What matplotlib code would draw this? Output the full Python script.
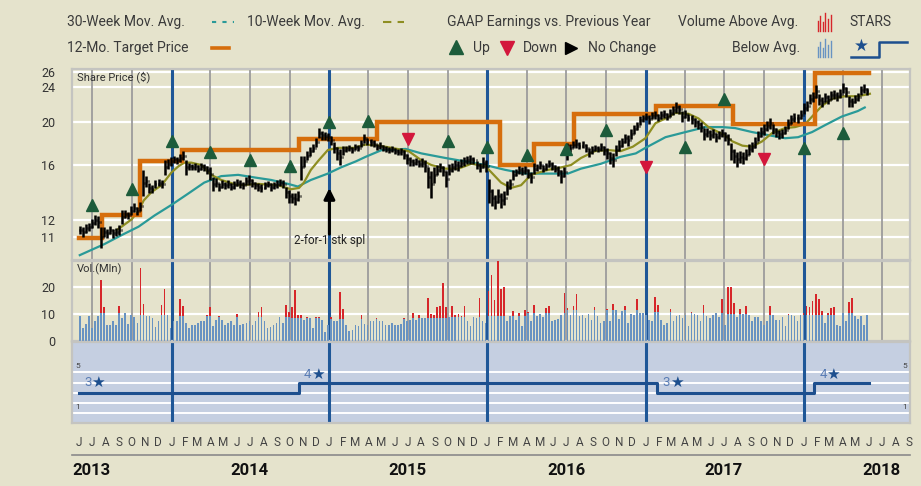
import matplotlib
matplotlib.use("Agg")
import numpy as np
import pandas as pd
import matplotlib.pyplot as plt
import matplotlib.dates as mdates
import matplotlib.transforms as mtransforms
from matplotlib.lines import Line2D
from matplotlib.collections import LineCollection

plt.rcParams['font.family'] = ['Roboto', 'DejaVu Sans']

# ---------------- data ----------------
first_week = "2013-06-03"

weekly_close = [
    11.4, 11.3, 11.5, 11.6, 11.8, 12.0, 11.9, 11.0, 11.3, 11.2,
    11.4, 11.2, 11.3, 11.4, 12.2, 12.4, 12.3, 12.6, 12.8, 12.6,
    12.9, 14.6, 14.7, 14.2, 14.1, 14.5, 14.6, 14.5, 15.8, 16.1,
    16.3, 16.5, 16.4, 16.6, 16.8, 15.8, 15.9, 15.8, 15.9, 15.7,
    15.9, 15.8, 15.6, 15.3, 14.5, 14.6, 14.3, 14.5, 14.4, 14.5,
    14.3, 14.4, 14.6, 14.5, 14.4, 14.7, 14.8, 14.6, 14.4, 14.3,
    14.2, 14.4, 14.5, 14.3, 14.4, 14.5, 14.6, 14.5, 13.9, 13.6,
    13.5, 13.4, 13.6, 15.8, 16.3, 16.8, 17.2, 17.5, 18.0, 18.9,
    18.7, 18.6, 18.5, 18.2, 17.5, 17.0, 16.7, 17.3, 17.4, 17.5,
    17.3, 17.6, 17.5, 17.9, 18.4, 18.1, 18.0, 17.9, 17.6, 17.7,
    17.5, 17.4, 17.3, 17.4, 17.2, 17.1, 17.2, 16.9, 16.5, 16.3,
    16.2, 16.3, 16.1, 16.2, 15.9, 15.0, 14.5, 15.2, 15.6, 15.8,
    15.5, 14.9, 15.6, 15.8, 16.0, 15.9, 16.2, 16.3, 16.4, 16.5,
    16.4, 16.0, 15.8, 16.2, 15.9, 14.0, 13.5, 13.2, 13.6, 13.3,
    13.5, 14.2, 14.5, 15.2, 15.4, 15.6, 15.5, 15.6, 15.3, 15.0,
    15.7, 15.8, 16.0, 15.7, 15.9, 16.1, 15.9, 15.7, 15.5, 15.1,
    15.4, 17.2, 17.5, 17.8, 17.9, 17.7, 17.8, 17.5, 17.1, 17.3,
    17.5, 17.4, 17.6, 17.3, 17.0, 16.6, 16.4, 17.3, 17.7, 18.0,
    18.4, 18.2, 18.8, 19.3, 19.6, 20.2, 20.4, 20.6, 20.3, 20.7,
    20.8, 20.5, 20.8, 20.9, 20.6, 21.0, 21.3, 21.6, 21.4, 20.6,
    20.9, 20.5, 20.3, 20.0, 19.8, 19.5, 18.8, 19.0, 18.7, 18.9,
    18.5, 18.7, 18.9, 18.6, 18.3, 17.2, 16.8, 16.5, 16.7, 16.6,
    16.9, 17.4, 17.6, 18.0, 18.6, 19.0, 19.3, 19.6, 19.9, 19.3,
    19.0, 18.8, 18.9, 19.2, 19.8, 20.3, 20.5, 20.4, 20.8, 21.5,
    21.8, 22.6, 22.8, 23.5, 22.5, 22.2, 22.8, 22.5, 23.0, 23.1,
    22.9, 23.2, 23.9, 23.4, 22.3, 22.2, 22.6, 22.8, 23.6, 23.8, 23.5,
]

weekly_range = [
    0.5, 0.6, 0.5, 0.5, 0.6, 0.6, 0.7, 1.2, 0.6, 0.5,
    0.5, 0.5, 0.5, 0.6, 0.9, 0.5, 0.5, 0.6, 0.6, 0.5,
    0.6, 2.0, 0.8, 0.7, 0.6, 0.6, 0.5, 0.6, 1.2, 0.8,
    0.7, 0.6, 0.6, 0.7, 0.8, 1.2, 0.6, 0.5, 0.6, 0.6,
    0.6, 0.6, 0.6, 1.0, 1.0, 0.7, 0.6, 0.6, 0.5, 0.6,
    0.5, 0.6, 0.5, 0.6, 0.5, 0.6, 0.7, 0.6, 0.5, 0.6,
    0.6, 0.5, 0.5, 0.6, 0.5, 0.6, 0.5, 0.6, 0.8, 0.9,
    0.7, 0.8, 0.7, 2.0, 1.0, 0.8, 0.8, 0.8, 0.9, 1.0,
    0.9, 0.8, 0.8, 0.9, 1.0, 1.2, 1.4, 0.8, 0.6, 0.6,
    0.6, 0.6, 0.6, 0.7, 0.9, 0.7, 0.6, 0.6, 0.6, 0.6,
    0.6, 0.5, 0.6, 0.5, 0.5, 0.5, 0.6, 0.8, 0.9, 0.7,
    0.6, 0.6, 0.6, 0.8, 1.0, 1.6, 2.0, 1.2, 0.8, 0.7,
    0.8, 1.2, 0.9, 0.7, 0.8, 0.8, 0.7, 0.7, 0.7, 0.8,
    0.6, 0.7, 0.8, 0.9, 1.0, 1.8, 1.2, 1.0, 1.0, 1.0,
    1.0, 1.0, 0.8, 0.8, 0.6, 0.6, 0.6, 0.7, 0.7, 0.9,
    0.9, 0.6, 0.7, 0.6, 0.6, 0.6, 0.7, 0.6, 0.8, 1.0,
    0.8, 1.5, 0.8, 0.7, 0.8, 0.6, 0.6, 0.8, 0.8, 0.7,
    0.6, 0.6, 0.7, 0.8, 0.9, 1.0, 1.2, 1.0, 1.0, 0.8,
    0.9, 1.0, 1.0, 0.9, 0.8, 0.9, 0.8, 0.8, 0.9, 0.8,
    0.9, 0.8, 0.9, 0.8, 0.8, 0.9, 1.0, 1.2, 1.0, 1.2,
    0.9, 0.8, 1.0, 0.9, 0.9, 1.0, 1.2, 0.9, 1.0, 0.9,
    0.9, 0.8, 0.8, 0.9, 1.0, 1.5, 1.2, 1.3, 1.0, 1.0,
    1.0, 1.0, 0.9, 1.0, 1.0, 1.0, 1.1, 1.0, 1.2, 1.0,
    0.9, 0.9, 0.9, 0.8, 1.0, 1.0, 0.9, 0.9, 1.0, 1.2,
    1.1, 1.2, 1.2, 1.5, 1.3, 1.2, 1.1, 1.1, 1.0, 1.1,
    1.0, 1.1, 1.3, 1.2, 1.3, 1.1, 1.0, 1.0, 1.2, 1.1, 0.8,
]

weekly_volume = [
    9.1, 4.8, 6.4, 9.1, 4.8, 7.5, 9.4, 22.5, 12.5, 6.0,
    6.0, 7.3, 5.8, 12.9, 8.5, 10.4, 6.4, 9.8, 9.0, 6.6,
    27.0, 13.8, 9.4, 9.1, 8.5, 5.0, 7.3, 13.5, 19.1, 9.5,
    4.8, 7.3, 7.3, 15.4, 12.9, 6.6, 4.8, 6.0, 6.0, 6.6,
    7.3, 7.3, 9.8, 12.6, 5.4, 7.9, 9.1, 7.9, 6.0, 6.6,
    7.3, 6.0, 10.1, 6.0, 6.3, 6.6, 7.3, 6.0, 7.3, 10.8,
    12.5, 7.3, 4.8, 5.0, 6.0, 6.6, 8.8, 6.6, 13.5, 10.8,
    12.5, 18.9, 9.8, 9.8, 7.9, 9.0, 8.5, 4.8, 9.0, 8.8,
    7.9, 3.5, 5.8, 8.8, 7.5, 7.5, 18.3, 12.0, 6.0, 3.8,
    4.1, 5.8, 5.6, 9.8, 6.3, 5.8, 7.5, 7.5, 8.5, 7.3,
    7.5, 5.8, 5.8, 6.6, 5.8, 6.0, 6.3, 8.5, 7.3, 7.9,
    10.4, 7.9, 9.8, 8.5, 8.5, 16.0, 10.0, 9.8, 12.5, 12.9,
    21.6, 12.5, 8.8, 12.9, 9.5, 10.0, 9.1, 13.1, 7.5, 5.4,
    8.8, 8.5, 15.8, 7.3, 6.6, 18.5, 24.4, 15.0, 29.5, 19.1,
    20.0, 7.5, 9.1, 11.0, 7.9, 10.4, 5.4, 11.6, 10.8, 7.3,
    13.5, 9.1, 10.0, 8.8, 12.3, 12.9, 7.5, 7.9, 8.3, 9.8,
    17.9, 12.3, 9.8, 12.9, 17.3, 9.1, 9.8, 8.5, 10.0, 7.9,
    12.6, 9.1, 6.6, 7.5, 12.0, 7.3, 13.8, 11.3, 8.3, 11.0,
    12.9, 6.6, 10.0, 9.5, 15.4, 10.4, 10.4, 9.8, 7.9, 7.3,
    16.3, 13.3, 7.9, 6.0, 6.6, 12.0, 7.3, 9.1, 9.8, 8.5,
    9.8, 5.4, 10.8, 10.0, 9.8, 7.3, 13.3, 9.1, 8.5, 9.8,
    10.4, 8.8, 15.4, 6.0, 19.8, 20.0, 14.1, 8.8, 12.0, 10.0,
    12.9, 9.5, 7.3, 8.8, 8.8, 7.3, 6.0, 7.3, 12.9, 9.5,
    7.6, 7.6, 8.8, 5.6, 10.0, 9.8, 9.4, 7.3, 9.8, 10.4,
    12.9, 12.5, 14.8, 17.5, 15.4, 11.0, 6.6, 10.4, 12.3, 12.5,
    6.0, 5.4, 10.4, 7.5, 14.4, 15.8, 9.1, 8.1, 9.1, 6.0, 9.8,
]

# average weekly volume by calendar quarter, 2013 Q2 ... 2018 Q2
vol_avg_quarter = [10.3, 10.3, 9.6, 9.4, 9.0, 8.8, 8.5, 8.3, 8.3, 8.5, 9.0,
                   9.3, 10.5, 11.5, 11.3, 10.6, 10.2, 10.0, 9.8, 9.8, 10.3]

# moving averages (week number after first_week, value)
ma10_week = [12.2, 13.8, 17.1, 19.4, 21.1, 23.7, 27.0, 30.3, 32.6, 34.5,
             36.8, 40.1, 43.4, 46.7, 52.3, 58.9, 65.5, 69.7, 72.4, 74.0,
             76.3, 78.9, 81.9, 85.2, 90.5, 94.4, 98.7, 103.0, 108.6, 112.8,
             116.1, 120.7, 125.0, 129.3, 133.9, 135.9, 139.1, 142.4, 145.7, 149.0,
             154.6, 158.9, 162.2, 165.5, 170.1, 174.3, 178.6, 182.6, 186.8, 190.1,
             193.4, 196.7, 201.0, 204.3, 207.6, 212.2, 215.5, 218.8, 222.0, 225.3,
             228.6, 232.9, 236.2, 239.5, 241.8, 245.1, 248.4, 252.6, 256.9, 260.9]
ma10_val = [11.4, 11.6, 12.05, 12.6, 13.3, 13.9, 14.4, 15.4, 15.9, 16.2,
            16.2, 16.0, 15.2, 14.8, 14.4, 14.5, 14.4, 14.1, 14.2, 14.6,
            15.6, 16.4, 17.3, 17.5, 17.5, 17.8, 17.7, 17.5, 17.2, 16.4,
            16.0, 15.7, 15.7, 16.1, 15.9, 15.4, 14.6, 14.2, 14.4, 15.2,
            15.6, 15.8, 16.0, 16.6, 17.2, 17.3, 17.2, 17.6, 18.4, 19.9,
            20.4, 21.0, 20.9, 20.4, 19.5, 18.8, 18.1, 17.7, 17.6, 18.1,
            18.9, 19.4, 19.5, 19.8, 20.6, 21.8, 22.6, 22.9, 22.9, 23.2]
ma30_week = [0.0, 8.2, 13.8, 19.4, 24.7, 30.3, 35.9, 41.1, 46.7, 52.3,
             57.6, 63.2, 68.8, 72.0, 76.3, 81.9, 86.2, 91.1, 94.4, 99.7,
             107.6, 112.8, 120.7, 127.3, 133.9, 140.5, 147.0, 154.6, 161.2, 165.5,
             172.0, 178.6, 183.6, 186.8, 193.4, 200.0, 206.6, 212.2, 216.4, 222.0,
             227.3, 232.9, 237.2, 241.8, 246.1, 251.6, 256.9, 259.2]
ma30_val = [10.0, 10.6, 11.1, 11.6, 12.3, 13.0, 13.8, 14.6, 15.1, 15.2,
            15.0, 14.8, 14.5, 14.3, 14.8, 15.3, 15.8, 16.3, 16.7, 17.3,
            17.4, 17.0, 16.6, 16.3, 16.0, 15.6, 15.3, 15.3, 15.3, 15.7,
            16.1, 16.7, 17.0, 17.5, 18.5, 19.0, 19.5, 19.5, 19.4, 19.0,
            18.7, 18.4, 18.5, 19.0, 19.7, 20.6, 21.2, 21.6]

target_start = ['2013-06-01', '2013-07-24', '2013-10-20', '2014-01-26', '2014-10-22',
                '2015-04-20', '2016-01-30', '2016-04-19', '2016-07-19', '2017-01-25',
                '2017-07-21', '2018-01-28']
target_val = [10.95, 12.3, 16.3, 17.3, 18.3, 20.0, 16.0, 17.9, 20.9, 21.8, 19.8, 25.9]
target_end = '2018-06-02'

earn_date = ['2013-07-01', '2013-10-01', '2014-01-01', '2014-04-01', '2014-07-01',
             '2014-10-01', '2015-01-01', '2015-04-01', '2015-07-01', '2015-10-01',
             '2016-01-01', '2016-04-01', '2016-07-01', '2016-10-01', '2017-01-01',
             '2017-04-01', '2017-07-01', '2017-10-01', '2018-01-01', '2018-04-01']
earn_dir = ['up', 'up', 'up', 'up', 'up', 'up', 'up', 'up', 'down', 'up',
            'up', 'up', 'up', 'up', 'down', 'up', 'up', 'down', 'up', 'up']
earn_level = [13.0, 14.1, 18.1, 17.1, 16.4, 15.9, 20.0, 20.1, 18.3, 18.1,
              17.6, 16.9, 17.4, 19.2, 15.8, 17.6, 22.6, 16.5, 17.5, 18.9]

star_start = ['2013-06-01', '2014-10-22', '2017-01-28', '2018-01-25']
star_val = [3, 4, 3, 4]
star_end = '2018-06-02'

split_date = '2015-01-01'
split_from, split_to = 11.0, 14.4
split_label = '2-for-1 stk spl'

price_ticks = [11, 12, 16, 20, 24, 26]
vol_ticks = [0, 10, 20]
month_letters = ['J', 'F', 'M', 'A', 'M', 'J', 'J', 'A', 'S', 'O', 'N', 'D']
years = [2013, 2014, 2015, 2016, 2017, 2018]

# ---------------- styling ----------------
BG = '#e5e3cc'
FRAME = '#c4c4c0'
TEAL = '#2a9a98'
OLIVE = '#8e8e22'
ORANGE = '#d66e0c'
GREEN = '#1d5c3b'
RED = '#d3173c'
BLUE = '#1f5797'
VBLUE = '#6893c2'
VRED = '#d6262a'
GRAYV = '#9c9c9c'
TXT = '#3a3a3a'

W, H = 921, 486
def fx(x): return x / W
def fy(y): return 1 - y / H
def rect(x0, y0, x1, y1): return [x0 / W, 1 - y1 / H, (x1 - x0) / W, (y1 - y0) / H]

fig = plt.figure(figsize=(W / 100, H / 100), dpi=100)
fig.patch.set_facecolor(BG)

ax_p = fig.add_axes(rect(72, 69, 910, 260))
ax_v = fig.add_axes(rect(72, 261, 910, 341))
ax_s = fig.add_axes(rect(72, 342, 910, 423))

t0 = pd.Timestamp(first_week)
n = len(weekly_close)
wdates = t0 + pd.to_timedelta(np.arange(n) * 7, unit='D')
xw = mdates.date2num(wdates)

def wk2num(wk):
    return mdates.date2num(t0 + pd.to_timedelta(np.array(wk) * 7.0, unit='D'))

def d2n(s):
    return mdates.date2num(pd.to_datetime(s))

xlim = (d2n('2013-05-16'), d2n('2018-09-04'))
quarters = pd.date_range('2013-07-01', '2018-07-01', freq='QS')

for ax in (ax_p, ax_v, ax_s):
    ax.set_xlim(*xlim)
    for sp in ax.spines.values():
        sp.set_color(FRAME)
        sp.set_linewidth(1.6)
    ax.tick_params(axis='x', length=0, labelbottom=False)
    ax.tick_params(axis='y', length=0)

# ---------- price panel ----------
ax_p.set_facecolor(BG)
ax_p.set_yscale('log')
ax_p.set_ylim(9.75, 26.4)
ax_p.yaxis.set_minor_locator(matplotlib.ticker.NullLocator())
ax_p.set_yticks(price_ticks)
ax_p.set_yticklabels([str(t) for t in price_ticks])
ax_p.tick_params(axis='y', labelsize=9, labelcolor='#333333', pad=12)
for t in price_ticks:
    ax_p.axhline(t, color='white', lw=1.6, zorder=1)

def vgrid(ax, only_jan=False):
    for q in quarters:
        xq = mdates.date2num(q)
        if q.month == 1:
            ax.axvline(xq, color=BLUE, lw=2.2, zorder=2)
        elif not only_jan:
            ax.axvline(xq, color=GRAYV, lw=1.3, zorder=2)

vgrid(ax_p)

ax_p.plot(wk2num(ma30_week), ma30_val, color=TEAL, lw=1.6, zorder=3)
ax_p.plot(wk2num(ma10_week), ma10_val, color=OLIVE, lw=1.6, zorder=3)

tx = list(d2n(target_start)) + [d2n(target_end)]
ty = list(target_val) + [target_val[-1]]
ax_p.step(tx, ty, where='post', color=ORANGE, lw=3.2, zorder=4, solid_joinstyle='miter')

close = np.array(weekly_close)
rng = np.array(weekly_range)
hi = close + rng / 2
lo = close - rng / 2
opn = np.r_[close[0], close[:-1]]
segs = []
for x, l, h, o, c in zip(xw, lo, hi, opn, close):
    segs.append([(x, l), (x, h)])
    segs.append([(x, c), (x + 2.3, c)])
    segs.append([(x - 2.3, o), (x, o)])
ax_p.add_collection(LineCollection(segs, colors='black', linewidths=1.8, zorder=5))

for d, dr, lv in zip(earn_date, earn_dir, earn_level):
    if dr == 'up':
        ax_p.plot([d2n(d)], [lv], marker='^', ms=8.5, color=GREEN, mec=GREEN, zorder=6, ls='none')
    else:
        ax_p.plot([d2n(d)], [lv], marker='v', ms=8.5, color=RED, mec=RED, zorder=6, ls='none')

xs = d2n(split_date)
ax_p.annotate('', xy=(xs, split_to), xytext=(xs, split_from),
              arrowprops=dict(arrowstyle='-|>', color='black', lw=2.2, mutation_scale=16),
              zorder=7)
ax_p.text(xs, 10.77, split_label, ha='center', va='center', fontsize=8.5,
          color='#222222', zorder=7)
ax_p.text(0.006, 0.955, 'Share Price ($)', transform=ax_p.transAxes, fontsize=8,
          color='#333333', ha='left', va='center')

# ---------- volume panel ----------
ax_v.set_facecolor(BG)
ax_v.set_ylim(0, 29.6)
ax_v.set_yticks(vol_ticks)
ax_v.set_yticklabels([str(t) for t in vol_ticks])
ax_v.tick_params(axis='y', labelsize=9, labelcolor='#333333', pad=12)
for t in (10, 20):
    ax_v.axhline(t, color='white', lw=1.6, zorder=1)
vgrid(ax_v)
vol = np.array(weekly_volume)
qidx = (wdates.year - 2013) * 4 + (wdates.month - 1) // 3 - 1
avg = np.array(vol_avg_quarter)[np.asarray(qidx)]
blue = np.minimum(vol, avg)
red = np.clip(vol - avg, 0, None)
ax_v.bar(xw, blue, width=3.8, color=VBLUE, linewidth=0, zorder=3)
ax_v.bar(xw, red, bottom=blue, width=3.8, color=VRED, linewidth=0, zorder=3)
ax_v.text(0.006, 0.9, 'Vol.(Mln)', transform=ax_v.transAxes, fontsize=8,
          color='#333333', ha='left', va='center')

# ---------- stars panel ----------
ax_s.set_facecolor('#c5cfe1')
ax_s.set_ylim(0, 8)
ax_s.set_yticks([])
for lv in range(1, 6):
    ax_s.axhline(lv, color='white', lw=1.4, zorder=1)
vgrid(ax_s, only_jan=True)
sx = list(d2n(star_start)) + [d2n(star_end)]
sy = list(star_val) + [star_val[-1]]
ax_s.step(sx, sy, where='post', color='#1d4f8e', lw=2.2, zorder=3)
for d, v in zip(star_start, star_val):
    xd = d2n(d)
    ax_s.annotate(str(v), xy=(xd, v), xytext=(9, 10 if v == 3 else 8), textcoords='offset pixels',
                  fontsize=9.5, color='#5a7db5', ha='center', va='center', zorder=4)
    ax_s.annotate('\u2605', xy=(xd, v), xytext=(19, 10 if v == 3 else 8), textcoords='offset pixels',
                  fontsize=11, color='#1d4f8e', ha='center', va='center', zorder=4,
                  family=['DejaVu Sans'])
ax_s.text(0.004, 0.70, '5', transform=ax_s.transAxes, fontsize=6, color='#444444', va='center')
ax_s.text(0.004, 0.20, '1', transform=ax_s.transAxes, fontsize=6, color='#444444', va='center')
ax_s.text(0.996, 0.70, '5', transform=ax_s.transAxes, fontsize=6, color='#444444', va='center', ha='right')
ax_s.text(0.996, 0.20, '1', transform=ax_s.transAxes, fontsize=6, color='#444444', va='center', ha='right')

months = pd.date_range('2013-06-01', '2018-09-01', freq='MS')
ax_s.set_xticks(mdates.date2num(months))
ax_s.set_xticklabels([month_letters[m.month - 1] for m in months])
ax_s.tick_params(axis='x', labelbottom=True, labelsize=8.5, labelcolor='#444444', pad=9, length=0)

# year labels and separator
trans = mtransforms.blended_transform_factory(ax_s.transData, fig.transFigure)
for yr in years:
    ax_s.text(d2n(f'{yr}-07-01'), fy(470), str(yr), transform=trans, ha='center', va='center',
              fontsize=12, fontweight='bold', color='#111111', clip_on=False)
fig.add_artist(Line2D([fx(72), fx(910)], [fy(455), fy(455)], color='#8a8a8a', lw=1.2,
                      transform=fig.transFigure))

# ---------- legend ----------
LF = 10
def ftext(x, y, s, **kw):
    fig.text(fx(x), fy(y), s, fontsize=LF, color=TXT, ha='left', va='center', **kw)

ftext(67, 22, '30-Week Mov. Avg.')
fig.add_artist(Line2D([fx(212), fx(234)], [fy(22), fy(22)], color=TEAL, lw=1.5,
                      ls=(0, (2, 3)), transform=fig.transFigure))
ftext(247, 22, '10-Week Mov. Avg.')
fig.add_artist(Line2D([fx(383), fx(404)], [fy(22), fy(22)], color=OLIVE, lw=1.5,
                      ls=(0, (4, 3)), transform=fig.transFigure))
ftext(447, 22, 'GAAP Earnings vs. Previous Year')
ftext(678, 22, 'Volume Above Avg.')
ftext(849, 22, 'STARS')

ftext(67, 48, '12-Mo. Target Price')
fig.add_artist(Line2D([fx(212), fx(229)], [fy(48), fy(48)], color=ORANGE, lw=2.6,
                      transform=fig.transFigure))
fig.add_artist(Line2D([fx(456)], [fy(47)], marker='^', ms=9.5, color=GREEN, ls='none',
                      transform=fig.transFigure))
ftext(473, 48, 'Up')
fig.add_artist(Line2D([fx(507)], [fy(48)], marker='v', ms=9.5, color=RED, ls='none',
                      transform=fig.transFigure))
ftext(523, 48, 'Down')
fig.add_artist(Line2D([fx(571)], [fy(48)], marker='>', ms=8.5, color='black', ls='none',
                      transform=fig.transFigure))
ftext(588, 48, 'No Change')
ftext(732, 48, 'Below Avg.')

icon_h = [0.55, 0.85, 0.5, 1.0, 0.65, 0.9]
for i, hgt in enumerate(icon_h):
    xi = 817.5 + i * 2.6
    fig.add_artist(Line2D([fx(xi), fx(xi)], [fy(31), fy(31 - 18 * hgt)], color=VRED, lw=1.0,
                          transform=fig.transFigure))
    fig.add_artist(Line2D([fx(xi), fx(xi)], [fy(57), fy(57 - 18 * hgt)], color=VBLUE, lw=1.0,
                          transform=fig.transFigure))

fig.text(fx(861), fy(46), '\u2605', fontsize=12, color='#1d4f8e', ha='center', va='center',
         family=['DejaVu Sans'])
fig.add_artist(Line2D([fx(851), fx(879), fx(879), fx(907)], [fy(57), fy(57), fy(42), fy(42)],
                      color='#1d4f8e', lw=1.8, transform=fig.transFigure))

fig.savefig('out.png', dpi=100, facecolor=BG)
